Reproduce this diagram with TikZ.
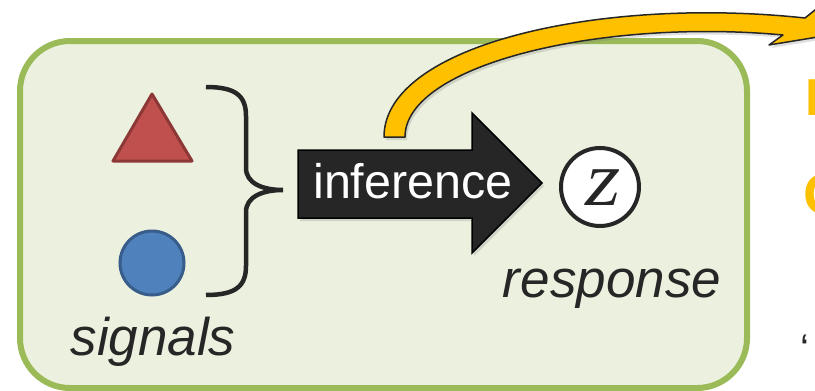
\documentclass[tikz,border=0pt]{standalone}
\usepackage{fontspec}
\setmainfont{Liberation Sans}
\newfontfamily\zfont{Liberation Serif}[FakeSlant=0.2]
\usetikzlibrary{shadows}
\definecolor{gfill}{HTML}{EBF1DE}
\definecolor{gline}{HTML}{9BBB59}
\definecolor{tri}{HTML}{C0504D}
\definecolor{triline}{HTML}{8C3836}
\definecolor{dot}{HTML}{4F81BD}
\definecolor{dotline}{HTML}{385D8A}
\definecolor{ink}{HTML}{262626}
\definecolor{gold}{HTML}{FFC000}
\tikzset{
  lbl/.style={font=\fontsize{53}{60}\selectfont\itshape, text=ink, inner sep=0pt, anchor=base},
  softshadow/.style={drop shadow={shadow xshift=2pt, shadow yshift=-3pt, opacity=0.25}},
}
\begin{document}
\begin{tikzpicture}[x=1pt,y=-1pt]
\useasboundingbox (0,0) rectangle (815,391);
\clip (0,0) rectangle (815,391);
% green panel
\draw[line width=6pt, draw=gline, fill=gfill, rounded corners=50pt] (20,41) rectangle (747,388);
% signals
\draw[line width=3pt, draw=triline, fill=tri, line join=round] (152,94) -- (192,161) -- (113,161) -- cycle;
\draw[line width=3pt, draw=dotline, fill=dot] (152,263) circle (32);
% brace
\draw[line width=4.5pt, draw=ink] (206,87) .. controls (236,87) and (246,96) .. (246,116) -- (246,168)
  .. controls (246,183) and (262,190) .. (283,190)
  .. controls (262,190) and (246,197) .. (246,212) -- (246,266)
  .. controls (246,286) and (236,295) .. (206,295);
\node[lbl] (sig) at (153,355) {signals};
% orange curved arrow
\draw[line width=1.5pt, draw=ink, fill=gold, line join=round, softshadow]
  (384,137) .. controls (384,45) and (600,-4) .. (805,18) -- (835,-6) -- (885,26) -- (769,45) -- (783,35)
  .. controls (600,18) and (405,65) .. (405,137) -- cycle;
% inference arrow
\draw[line width=1.5pt, draw=black, fill=ink, line join=miter, softshadow]
  (298,150) -- (472,150) -- (472,113) -- (542,183) -- (472,253) -- (472,218) -- (298,218) -- cycle;
\node[font=\fontsize{48.5}{56}\selectfont, text=white, inner sep=0pt, anchor=base] (inf) at (413,198) {inference};
% response
\node[circle, draw=ink, line width=4pt, fill=white, minimum size=78pt, inner sep=0pt] (z) at (600,187) {};
\node[font=\zfont\fontsize{78}{80}\selectfont, text=ink, inner sep=0pt, anchor=base] (zl) at (600,205) {z};
\node[lbl] (resp) at (612,297) {response};
% clipped text at right edge
\node[font=\fontsize{52}{60}\selectfont\bfseries, text=gold, inner sep=0pt, anchor=base west] (e1) at (805,115) {E};
\node[font=\fontsize{58}{60}\selectfont\bfseries, text=gold, inner sep=0pt, anchor=base west] (e2) at (803,214) {O};
\node[font=\fontsize{40}{48}\selectfont, text=ink, inner sep=0pt, anchor=base west] (q) at (800,362) {‘};
\end{tikzpicture}
\end{document}
